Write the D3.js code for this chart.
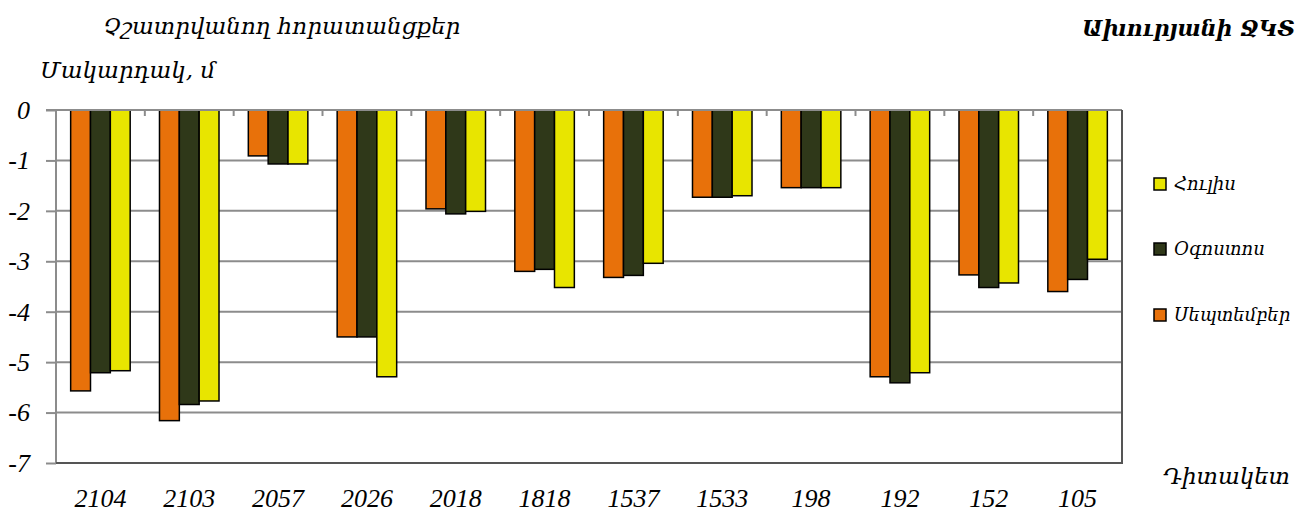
<!DOCTYPE html>
<html><head><meta charset="utf-8">
<script src="https://cdn.jsdelivr.net/npm/d3@7"></script>
<style>
html,body{margin:0;padding:0;background:#fff;}
text{font-family:"Liberation Serif","DejaVu Serif",serif;font-style:italic;}
text.arm{font-family:"DejaVu Serif",serif;}
</style></head>
<body><svg id="c" width="1308" height="515"></svg>
<script>
const categories = ["2104","2103","2057","2026","2018","1818","1537","1533","198","192","152","105"];
const september = [-5.57,-6.16,-0.91,-4.50,-1.96,-3.20,-3.32,-1.73,-1.54,-5.29,-3.27,-3.60];
const august    = [-5.21,-5.84,-1.07,-4.50,-2.06,-3.16,-3.28,-1.73,-1.54,-5.41,-3.52,-3.36];
const july      = [-5.17,-5.77,-1.07,-5.29,-2.01,-3.52,-3.04,-1.70,-1.54,-5.21,-3.43,-2.96];
const seriesNames = ["Սեպտեմբեր","Օգոստոս","Հուլիս"];
const seriesColors = ["#E8710A","#2F3819","#E8E500"];
const yTicks = [0,-1,-2,-3,-4,-5,-6,-7];

const series = [september, august, july];
const svg = d3.select("#c");
const L = 56, R = 1122, T = 110, B = 463;
const x = d3.scaleBand().domain(categories).range([L,R]).paddingInner(0.33).paddingOuter(0.165);
const xb = d3.scaleBand().domain(categories).range([L,R]);
const xs = d3.scaleBand().domain(d3.range(series.length)).range([0,x.bandwidth()]);
const y = d3.scaleLinear().domain([-7,0]).range([B,T]);

svg.append("g").selectAll("line").data(yTicks.filter(d=>d<0 && d>-7)).join("line")
  .attr("x1",L).attr("x2",R).attr("y1",d=>y(d)).attr("y2",d=>y(d))
  .attr("stroke","#8c8c8c").attr("stroke-width",2);

const yAxis = svg.append("g").attr("transform",`translate(${L},0)`)
  .call(d3.axisLeft(y).tickValues(yTicks).tickSize(10).tickFormat(d=>d));
yAxis.select(".domain").attr("stroke","#8c8c8c").attr("stroke-width",2).attr("d",`M0,${T}V${B}`);
yAxis.selectAll(".tick line").attr("stroke","#8c8c8c").attr("stroke-width",2);
yAxis.selectAll(".tick text").attr("x",-26).attr("dy","0.32em").attr("font-size",26)
  .attr("fill","#000").style("font-family",'"Liberation Serif","DejaVu Serif",serif').style("font-style","italic");

const grp = svg.append("g").selectAll("g").data(series).join("g")
  .attr("fill",(d,i)=>seriesColors[i]);
grp.selectAll("rect").data((d,i)=>d.map((v,j)=>({v,j,i}))).join("rect")
  .attr("x",d=>x(categories[d.j])+xs(d.i))
  .attr("width",xs.bandwidth())
  .attr("y",y(0))
  .attr("height",d=>y(d.v)-y(0))
  .attr("stroke","#000").attr("stroke-width",1.5);

const xAxis = svg.append("g").attr("transform",`translate(0,${y(0)})`)
  .call(d3.axisBottom(xb).tickSize(0).tickFormat(""));
xAxis.select(".domain").attr("stroke","#8c8c8c").attr("stroke-width",2).attr("d",`M${L-10},0H${R}`);
svg.append("g").selectAll("line").data(categories.slice(1)).join("line")
  .attr("x1",d=>xb(d)).attr("x2",d=>xb(d)).attr("y1",y(0)).attr("y2",y(0)+6)
  .attr("stroke","#8c8c8c").attr("stroke-width",2);

svg.append("path").attr("d",`M${L},${B}H${R}V${T}`).attr("fill","none")
  .attr("stroke","#555").attr("stroke-width",2);

svg.append("g").selectAll("text").data(categories).join("text")
  .attr("x",d=>xb(d)+xb.bandwidth()/2).attr("y",507)
  .attr("text-anchor","middle").attr("font-size",26).text(d=>d);

svg.append("text").attr("class","arm").attr("x",103).attr("y",34).attr("font-size",23).text("Չշատրվանող հորատանցքեր");
svg.append("text").attr("class","arm").attr("x",40).attr("y",78).attr("font-size",23).text("Մակարդակ, մ");
svg.append("text").attr("class","arm").attr("x",1295).attr("y",36).attr("text-anchor","end").attr("font-size",22)
  .attr("font-weight","bold").text("Ախուրյանի ՋԿՏ");
svg.append("text").attr("class","arm").attr("x",1290).attr("y",484).attr("text-anchor","end").attr("font-size",23).text("Դիտակետ");

const legendOrder = [2,1,0];
const legY = [184,249,315];
const lg = svg.append("g").selectAll("g").data(legendOrder).join("g")
  .attr("transform",(d,k)=>`translate(1154,${legY[k]})`);
lg.append("rect").attr("x",0).attr("y",-6).attr("width",12).attr("height",12)
  .attr("fill",d=>seriesColors[d]).attr("stroke","#000").attr("stroke-width",1.5);
lg.append("text").attr("class","arm").attr("x",20).attr("y",6).attr("font-size",18).text(d=>seriesNames[d]);
</script></body></html>
